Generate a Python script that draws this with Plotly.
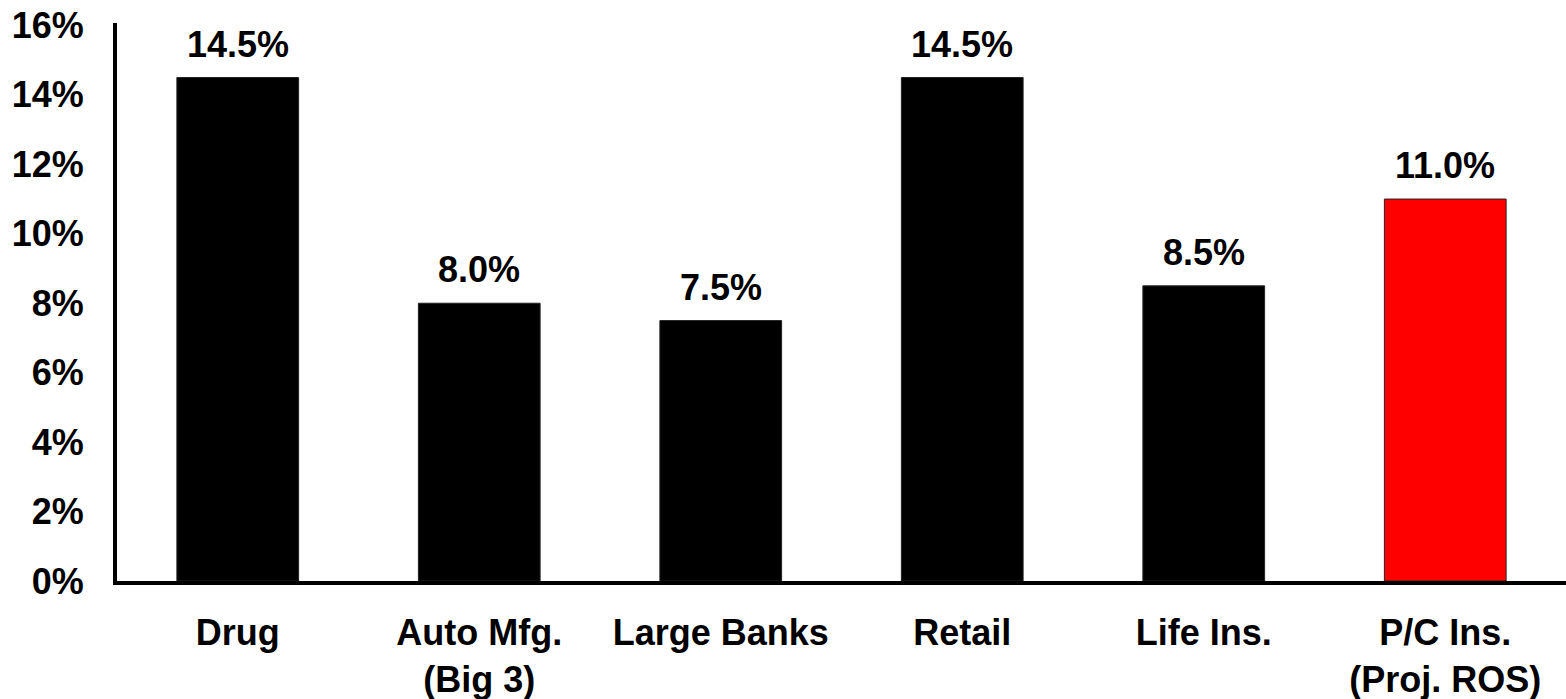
import plotly.graph_objects as go

categories = ["Drug", "Auto Mfg.<br>(Big 3)", "Large Banks", "Retail", "Life Ins.", "P/C Ins.<br>(Proj. ROS)"]
values = [14.5, 8.0, 7.5, 14.5, 8.5, 11.0]
bar_colors = ["#000000", "#000000", "#000000", "#000000", "#000000", "#FF0000"]
value_labels = ["14.5%", "8.0%", "7.5%", "14.5%", "8.5%", "11.0%"]
y_ticks = [0, 2, 4, 6, 8, 10, 12, 14, 16]
y_tick_labels = ["0%", "2%", "4%", "6%", "8%", "10%", "12%", "14%", "16%"]

FONT = dict(family="Liberation Sans, Arial, sans-serif", size=36, color="#000000", weight="bold")

fig = go.Figure()
fig.add_trace(go.Bar(
    x=categories,
    y=values,
    marker=dict(color=bar_colors, line=dict(color="#222222", width=1)),
    hoverinfo="skip",
))

for c, v, t in zip(categories, values, value_labels):
    fig.add_annotation(x=c, y=v, text=t, showarrow=False, yanchor="bottom",
                       yshift=11, font=FONT)

fig.update_layout(
    width=1566, height=699,
    margin=dict(l=117, r=0, t=23, b=118),
    plot_bgcolor="white", paper_bgcolor="white",
    bargap=0.496,
    showlegend=False,
    font=FONT,
)
fig.update_xaxes(
    showline=True, linecolor="black", linewidth=4,
    showgrid=False, ticks="", ticklabelstandoff=17,
    tickfont=FONT, automargin=False,
)
fig.update_yaxes(
    range=[0, 16.07],
    showline=True, linecolor="black", linewidth=4,
    showgrid=False, zeroline=False, ticks="",
    tickvals=y_ticks, ticktext=y_tick_labels,
    ticklabelstandoff=22, tickfont=FONT, automargin=False,
)

fig.write_html("out.html")
